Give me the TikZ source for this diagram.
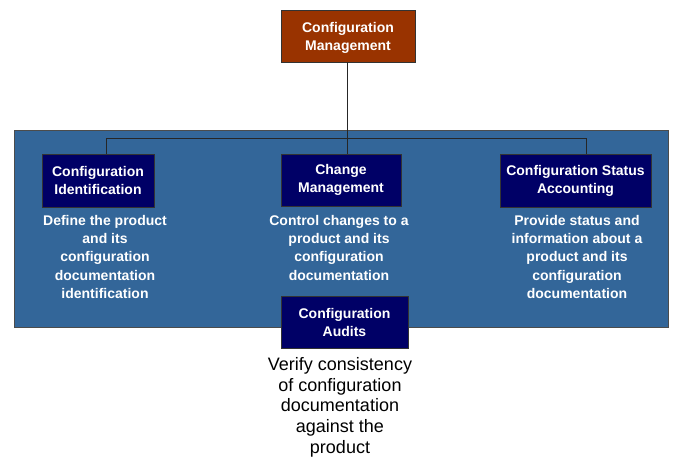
\documentclass[tikz,border=0pt]{standalone}
\usepackage{fontspec}
\setmainfont{Liberation Sans}
\definecolor{cmbrown}{HTML}{993300}
\definecolor{panelblue}{HTML}{336699}
\definecolor{navybox}{HTML}{000066}
\begin{document}
\begin{tikzpicture}[x=1pt,y=-1pt,
  topbox/.style={draw=black!80,fill=cmbrown,line width=0.8pt,text=white,font=\bfseries\fontsize{14}{18}\selectfont,align=center,inner sep=0pt},
  subbox/.style={draw=black!80,fill=navybox,line width=0.8pt,text=white,font=\bfseries\fontsize{14}{18}\selectfont,align=center,inner sep=0pt},
  desc/.style={text=white,font=\bfseries\fontsize{14}{18.3}\selectfont,align=center,anchor=north,inner sep=0pt},
  descb/.style={text=black,font=\fontsize{18}{20.8}\selectfont,align=center,anchor=north,inner sep=0pt},
  conn/.style={draw=black!85,line width=0.7pt}]
\useasboundingbox (0,0) rectangle (673,458);
\fill[white] (0,0) rectangle (673,458);
% panel
\node[draw=black!70,fill=panelblue,line width=0.8pt,minimum width=654,minimum height=197,anchor=north west,inner sep=0pt] (panel) at (14,130) {};
% top box
\node[topbox,minimum width=134,minimum height=52] (cm) at (348,36) {};
\node[topbox,draw=none,fill=none] (cmt) at (348,37.5) {Configuration\\Management};
% sub boxes
\node[subbox,minimum width=112,minimum height=53] (ci) at (98,180.5) {Configuration\\Identification};
\node[subbox,minimum width=120,minimum height=52] (chm) at (341,180) {Change\\Management};
\node[subbox,minimum width=151,minimum height=53] (csa) at (575.5,180.5) {Configuration Status\\Accounting};
\node[subbox,minimum width=127,minimum height=52] (ca) at (344.5,322) {Configuration\\Audits};
% connectors
\coordinate (hl) at (106,138);
\coordinate (hm) at (347,138);
\coordinate (hr) at (586,138);
\draw[conn] (cm.south -| hm) -- (hm);
\draw[conn] (hl) -- (hr);
\draw[conn] (hl) -- (hl |- ci.north);
\draw[conn] (hm) -- (hm |- chm.north);
\draw[conn] (hr) -- (hr |- csa.north);
% descriptions
\node[desc] (d1) at (105,215) {Define the product\\and its\\configuration\\documentation\\identification};
\node[desc] (d2) at (339,215) {Control changes to a\\product and its\\configuration\\documentation};
\node[desc] (d3) at (577,215) {Provide status and\\information about a\\product and its\\configuration\\documentation};
\node[descb] (d4) at (340,357) {Verify consistency\\of configuration\\documentation\\against the\\product};
\end{tikzpicture}
\end{document}
